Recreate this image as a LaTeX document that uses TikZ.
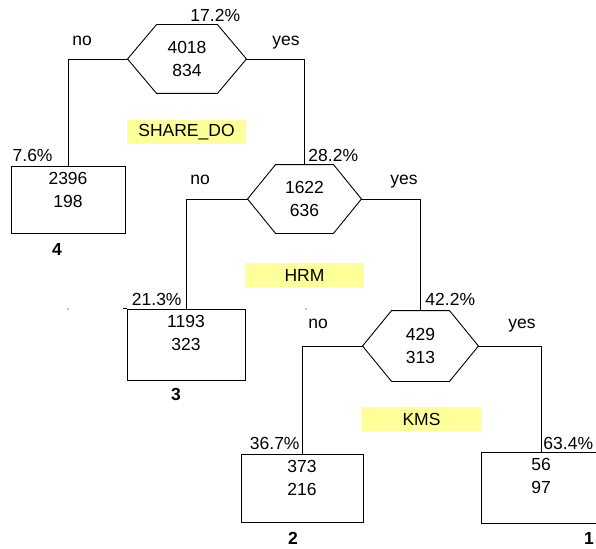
\documentclass[tikz,border=0pt]{standalone}
\usepackage{fontspec}
\setmainfont{Liberation Sans}
\definecolor{hlyellow}{RGB}{255,255,153}
\newcommand{\hexoutline}[2]{%
  \draw (#1.west) -- ([xshift=#2]#1.north west) -- ([xshift=-#2]#1.north east) -- (#1.east)
    -- ([xshift=-#2]#1.south east) -- ([xshift=#2]#1.south west) -- cycle;}
\begin{document}
\begin{tikzpicture}[x=1pt,y=-1pt,line width=0.9pt,
  every node/.style={font=\fontsize{17.5}{23}\selectfont},
  hexnode/.style={minimum width=#1, minimum height=68pt, inner sep=0pt, align=center},
  leaf/.style={draw, inner sep=0pt},
  boxtext/.style={anchor=north, inner sep=0pt, align=center, yshift=-6.5pt},
  hl/.style={fill=hlyellow, minimum width=119pt, minimum height=24pt, inner sep=0pt},
  lbl/.style={inner sep=0pt},
  leafno/.style={inner sep=0pt, anchor=base, font=\fontsize{17.5}{23}\selectfont\bfseries}]
\useasboundingbox[fill=white] (0,0) rectangle (596,548);

% highlight labels
\node[hl] (hlshare) at (186.5,132) {SHARE\_DO};
\node[hl] (hlhrm) at (304.5,275) {HRM};
\node[hl] (hlkms) at (421.5,419) {KMS};

% decision hexagons
\node[hexnode=118pt] (h1) at (187,59) {4018\\834};
\hexoutline{h1}{29pt}
\node[hexnode=113pt] (h2) at (304.5,199) {1622\\636};
\hexoutline{h2}{28pt}
\node[hexnode=115pt, minimum height=70pt] (h3) at (420.5,346) {429\\313};
\hexoutline{h3}{29pt}

% leaves
\node[leaf, minimum width=114pt, minimum height=67pt] (b4) at (68,199.5) {};
\node[leaf, minimum width=118pt, minimum height=71pt] (b3) at (186,344.5) {};
\node[leaf, minimum width=122pt, minimum height=68pt] (b2) at (302,488) {};
\node[leaf, minimum width=120pt, minimum height=71pt] (b1) at (541,487.5) {};
\draw (b3.north west) -- ++(-4,0);

\node[boxtext] (t4) at (b4.north) {2396\\198};
\node[boxtext] (t3) at (b3.north) {1193\\323};
\node[boxtext] (t2) at (b2.north) {373\\216};
\node[boxtext] (t1) at (b1.north) {56\\97};

% connectors
\draw (h1.west) -| (b4.north);
\draw (h1.east) -| (h2.north);
\draw (h2.west) -| (b3.north);
\draw (h2.east) -| (h3.north);
\draw (h3.west) -| (b2.north);
\draw (h3.east) -| (b1.north);

% branch labels
\node[lbl, anchor=base west] (n1) at (72,46) {no};
\node[lbl, anchor=base west] (y1) at (272,46) {yes};
\node[lbl, anchor=base west] (n2) at (190,184) {no};
\node[lbl, anchor=base west] (y2) at (390,184) {yes};
\node[lbl, anchor=base west] (n3) at (308,328) {no};
\node[lbl, anchor=base west] (y3) at (508,328) {yes};

% percentages
\node[lbl, anchor=base west] (p1) at (190,22) {17.2\%};
\node[lbl, anchor=base east] (p4) at (53,161) {7.6\%};
\node[lbl, anchor=base west] (p2) at (308,161) {28.2\%};
\node[lbl, anchor=base east] (p3) at (182,305) {21.3\%};
\node[lbl, anchor=base west] (p5) at (425,305) {42.2\%};
\node[lbl, anchor=base east] (p6) at (300,449) {36.7\%};
\node[lbl, anchor=base west] (p7) at (543,449) {63.4\%};

% leaf numbers
\node[leafno] (l4) at (57,255) {4};
\node[leafno] (l3) at (176,400) {3};
\node[leafno] (l2) at (293,544) {2};
\node[leafno] (l1) at (589,544) {1};

% stray dots
\fill (68,309) circle (0.7pt);
\fill (306,309) circle (0.7pt);
\end{tikzpicture}
\end{document}
